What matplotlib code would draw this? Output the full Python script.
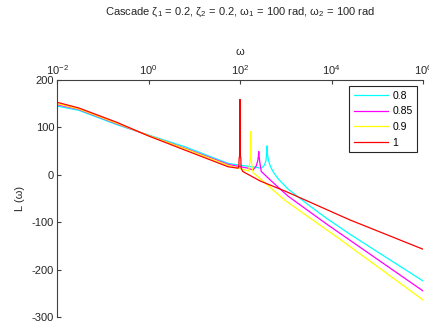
import numpy as np
import matplotlib.pyplot as plt

# valori (omega in rad/s, L in dB)
labels = ['0.8', '0.85', '0.9', '1']
colors = ['#00ffff', '#ff00ff', '#ffff00', '#ff0000']

w_08 = [0.01, 0.03, 0.2, 1, 6.3, 55, 150, 292, 340, 370, 383, 389, 396, 420, 460, 525, 676,
        1120, 3390, 7850, 25000, 1e6]
L_08 = [145, 136, 106, 84, 59, 24, 18, 14, 20, 30, 45, 61, 45, 30, 18, 7, -8,
        -30, -66, -92, -125, -224]

w_085 = [0.01, 0.03, 0.2, 1, 6.3, 55, 150, 192, 225, 245, 253, 257, 262, 275, 292, 483,
         1120, 7850, 1e6]
L_085 = [148, 138, 108, 83, 56, 22, 14, 10, 18, 30, 40, 49, 38, 22, 7, -13,
         -45, -104, -245]

w_09 = [0.01, 0.03, 0.2, 1, 6.3, 55, 130, 155, 160, 165, 169, 171, 173, 178, 184, 195,
        248, 690, 1000, 15350, 1e6]
L_09 = [150, 139, 109, 83, 55, 20, 10, 8, 20, 28, 40, 91, 40, 28, 15, 4,
        -4, -42, -55, -136, -264]

w_1 = [0.01, 0.03, 0.2, 1, 6.3, 55, 90, 94, 96, 98, 100, 102, 104, 106, 115, 275,
       1000, 25000, 1e6]
L_1 = [153, 141, 111, 82, 52, 17, 14, 16, 36, 39, 159, 39, 36, 14, 7, -13,
       -35, -95, -157]

series_w = [w_08, w_085, w_09, w_1]
series_L = [L_08, L_085, L_09, L_1]

plt.rcParams['font.family'] = ['Liberation Sans', 'DejaVu Sans']
plt.rcParams['mathtext.fontset'] = 'custom'
plt.rcParams['mathtext.rm'] = 'Liberation Sans'
plt.rcParams['mathtext.it'] = 'Liberation Sans:italic'
plt.rcParams['axes.unicode_minus'] = False

fig = plt.figure(figsize=(4.29, 3.31), dpi=100)
ax = fig.add_axes([57/429, 1-317/331, 366/429, 237/331])

for w, L, c, lab in zip(series_w, series_L, colors, labels):
    ax.plot(w, L, color=c, lw=0.9, label=lab)

ax.set_xscale('log')
ax.set_xlim(1e-2, 1e6)
ax.set_ylim(-300, 200)
ax.set_xticks([1e-2, 1e0, 1e2, 1e4, 1e6])
ax.minorticks_off()
ax.set_yticks([-300, -200, -100, 0, 100, 200])

ax.xaxis.tick_top()
ax.xaxis.set_label_position('top')
for s in ['right', 'bottom']:
    ax.spines[s].set_visible(False)
for s in ['left', 'top']:
    ax.spines[s].set_color('#404040')
    ax.spines[s].set_linewidth(0.8)
ax.tick_params(direction='in', length=3, width=0.8, color='#404040',
               labelsize=8, labelcolor='#262626', pad=2)

ax.set_xlabel('ω', fontsize=8, labelpad=6, color='#262626')
ax.set_ylabel('L (ω)', fontsize=8, labelpad=5, color='#262626')

fig.text(240/429, 1-12.5/331,
         r'Cascade $\mathrm{ζ}_1$ = 0.2, $\mathrm{ζ}_2$ = 0.2, $\mathrm{ω}_1$ = 100 rad, $\mathrm{ω}_2$ = 100 rad',
         ha='center', va='center', fontsize=8, color='#262626')

leg = ax.legend(loc='upper right', bbox_to_anchor=(0.984, 0.975), borderaxespad=0,
                fontsize=7.5, handlelength=3.3, labelspacing=0.55, fancybox=False,
                framealpha=1, edgecolor='#262626', handletextpad=0.4, borderpad=0.45)
leg.get_frame().set_linewidth(0.8)

plt.savefig('out.png', dpi=100)
